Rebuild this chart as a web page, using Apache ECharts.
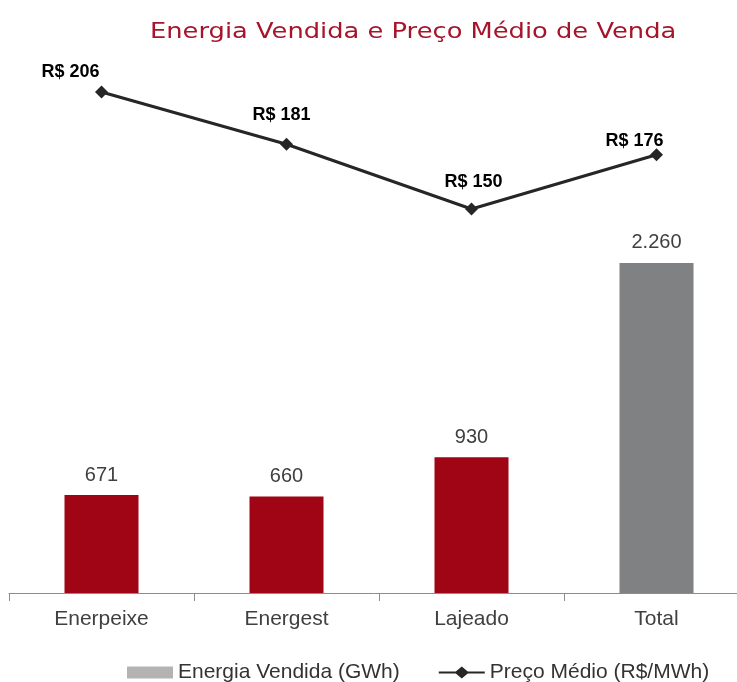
<!DOCTYPE html>
<html>
<head>
<meta charset="utf-8">
<script src="https://cdn.jsdelivr.net/npm/echarts@6/dist/echarts.min.js"></script>
<style>
  html, body { margin: 0; padding: 0; background: #fff; }
  #chart { width: 737px; height: 682px; }
</style>
</head>
<body>
<div id="chart"></div>
<script>
// dados
var categorias = ['Enerpeixe', 'Energest', 'Lajeado', 'Total'];
var energiaVendida = [671, 660, 930, 2260];
var precoMedio = [206, 181, 150, 176];
var titulo = 'Energia Vendida e Preço Médio de Venda';

var chart = echarts.init(document.getElementById('chart'));

// deslocamento dos rotulos da linha
var offsetsLinha = [[-31, 1], [-5, -9], [2, -6], [-22, 7]];

var option = {
    animation: false,
    graphic: [{
        type: 'text',
        x: 150,
        y: 32,
        scaleX: 1.17,
        style: {
            text: titulo,
            font: '22px "DejaVu Sans"',
            fill: '#A5142A',
            textAlign: 'left',
            textVerticalAlign: 'middle'
        }
    }],
    legend: {
        left: 122,
        top: 657,
        itemWidth: 46,
        itemHeight: 12,
        itemGap: 39,
        textStyle: {color: '#333', fontFamily: 'Liberation Sans', fontSize: 21},
        data: [
            {name: 'Energia Vendida (GWh)', icon: 'rect', itemStyle: {color: '#B3B3B3'}},
            {name: 'Preço Médio (R$/MWh)', icon: 'path://M0,5L17,5L23,0L29,5L46,5L46,7L29,7L23,12L17,7L0,7Z', itemStyle: {color: '#262626'}}
        ]
    },
    grid: {left: 9, width: 740, top: 60, bottom: 89, outerBoundsMode: 'none'},
    xAxis: {
        type: 'category',
        data: categorias,
        axisLine: {lineStyle: {color: '#8C8C8C', width: 1}},
        axisTick: {show: true, length: 8, lineStyle: {color: '#8C8C8C'}},
        axisLabel: {color: '#404040', fontFamily: 'Liberation Sans', fontSize: 21, margin: 16}
    },
    yAxis: [
        {type: 'value', min: 0, max: 3650, show: false, splitLine: {show: false}},
        {type: 'value', min: -33.7, max: 221.3, show: false, splitLine: {show: false}}
    ],
    series: [{
        name: 'Energia Vendida (GWh)',
        type: 'bar',
        barWidth: 74,
        data: energiaVendida,
        itemStyle: {
            color: function (p) { return p.dataIndex === 3 ? '#7F8182' : '#A00516'; }
        },
        label: {
            show: true, position: 'top', distance: 10,
            color: '#404040', fontFamily: 'Liberation Sans', fontSize: 20,
            formatter: function (p) { return p.value.toLocaleString('pt-BR'); }
        }
    }, {
        name: 'Preço Médio (R$/MWh)',
        type: 'line',
        yAxisIndex: 1,
        data: precoMedio.map(function (v, i) {
            return {value: v, label: {offset: offsetsLinha[i]}};
        }),
        symbol: 'diamond',
        symbolSize: 13,
        lineStyle: {color: '#262626', width: 3},
        itemStyle: {color: '#262626'},
        label: {
            show: true, position: 'top', distance: 5,
            color: '#000', fontFamily: 'Liberation Sans', fontWeight: 'bold', fontSize: 18,
            formatter: function (p) { return 'R$ ' + p.value; }
        }
    }]
};
chart.setOption(option);
</script>
</body>
</html>
